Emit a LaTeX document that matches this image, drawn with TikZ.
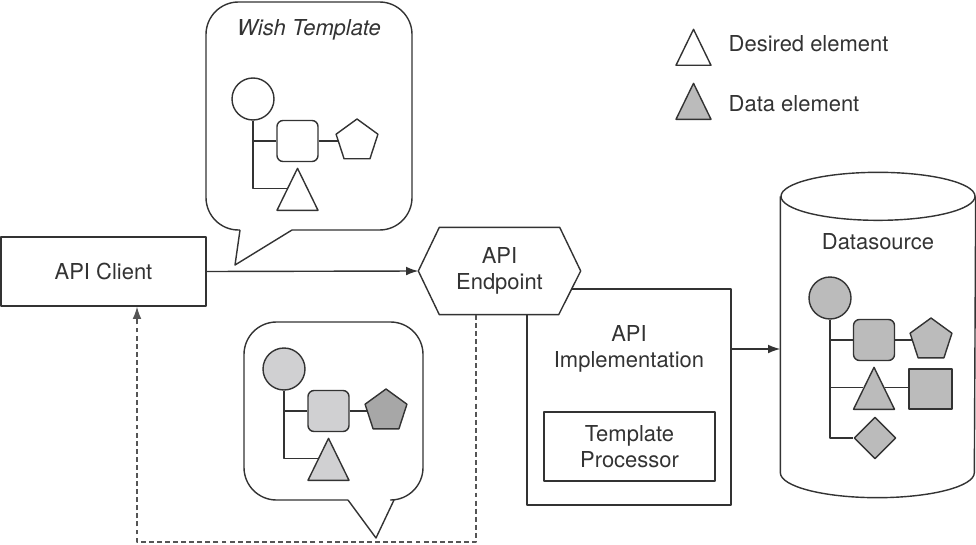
\documentclass[tikz,border=0pt]{standalone}
\usepackage{fontspec}
\setmainfont{TeX Gyre Heros}
\usepackage{tikz}
\usetikzlibrary{arrows.meta}
\usetikzlibrary{shapes.geometric}
\tikzset{>={Latex[length=7pt,width=5pt]}}
\definecolor{linegray}{HTML}{333333}
\definecolor{dashgray}{HTML}{555555}
\definecolor{lightfill}{HTML}{D0D0D2}
\definecolor{datafill}{HTML}{BBBBBB}
\definecolor{darkfill}{HTML}{A7A7A7}
\tikzset{
    circ/.style={circle, draw, inner sep=0pt, minimum size=0.84cm},
    sq/.style={rectangle, rounded corners=0.12cm, draw, inner sep=0pt, minimum size=0.82cm},
    pent/.style={regular polygon, regular polygon sides=5, draw, inner sep=0pt, minimum size=0.88cm},
    tri/.style={isosceles triangle, isosceles triangle stretches, shape border rotate=90, draw, inner sep=0pt,
        minimum width=0.82cm, minimum height=0.84cm, anchor=lower side},
    dia/.style={diamond, draw, inner sep=0pt, minimum size=0.84cm},
    bubble/.style={rounded corners=0.65cm},
    back/.style={dash pattern=on 2.8pt off 1.8pt, draw=dashgray, line width=0.7pt},
}

\begin{document}
\begin{tikzpicture}[x=0.02cm, y=-0.02cm, line width=0.8pt, color=linegray, line join=round,
    font=\fontsize{12.5}{15}\selectfont]

    \useasboundingbox (0,0) rectangle (976,544);

    % legend
    \node[tri, minimum width=0.7cm, minimum height=0.72cm] (legdes) at (693.5,66) {};
    \node[anchor=west, inner sep=0pt] (legdestext) at (728,44) {Desired element};
    \node[tri, fill=datafill, minimum width=0.7cm, minimum height=0.72cm] (legdat) at (693.5,120) {};
    \node[anchor=west, inner sep=0pt] (legdattext) at (728,104) {Data element};

    % wish template bubble
    \begin{scope}
        \draw[bubble] (240,230) -- (206,230) -- (206,2) -- (412,2) -- (412,230) -- (292,230);
        \draw (240,230) -- (235,265) -- (292,230);
        \node[font=\fontsize{12.5}{15}\selectfont\itshape] (wish) at (309,30) {Wish Template};
        \node[circ] (w1) at (253,99) {};
        \node[sq] (w2) at (297.5,141) {};
        \node[pent] (w3) at (357,141) {};
        \node[tri] (w4) at (297.5,211) {};
        \draw (w1.south) |- (w2.west);
        \draw (w1.south) |- (w4.left side);
        \draw (w2) -- (w3);
    \end{scope}

    % answer bubble
    \begin{scope}
        \draw[bubble] (348,500) -- (244,500) -- (244,322) -- (423,322) -- (423,500) -- (394,500);
        \draw (348,500) -- (376,538) -- (394,500);
        \node[circ, fill=lightfill] (b1) at (284,369) {};
        \node[sq, fill=lightfill] (b2) at (328.5,411) {};
        \node[pent, fill=darkfill] (b3) at (386,411) {};
        \node[tri, fill=lightfill] (b4) at (328.5,481) {};
        \draw (b1.south) |- (b2.west);
        \draw (b1.south) |- (b4.left side);
        \draw (b2) -- (b3);
    \end{scope}

    % client, endpoint, implementation
    \node[draw, minimum width=4.1cm, minimum height=1.38cm] (client) at (103.5,271.5) {API Client};

    \node[draw, minimum width=4.08cm, minimum height=4.32cm] (impl) at (629,397) {};
    \node[align=center] (impltext) at (629,349) {API\\Implementation};
    \node[draw, align=center, minimum width=3.42cm, minimum height=1.38cm] (proc) at (629.5,446.5) {Template\\Processor};

    \node[minimum width=3.22cm, minimum height=1.72cm] (ep) at (499.5,271) {};
    \draw[fill=white] (ep.west) -- ([xshift=0.42cm]ep.north west) -- ([xshift=-0.42cm]ep.north east)
        -- (ep.east) -- ([xshift=-0.44cm]ep.south east) -- ([xshift=0.42cm]ep.south west) -- cycle;
    \node[align=center] (eptext) at (ep) {API\\Endpoint};

    % datasource
    \node[minimum width=3.88cm, minimum height=5.5cm] (ds) at (878,334.5) {};
    \draw (ds.north west) -- (ds.south west) arc (180:0:97 and 25) -- (ds.north east);
    \draw (ds.north) ellipse (97 and 24);
    \node (dstext) at (878,242) {Datasource};
    \node[circ, fill=datafill] (d1) at (830,298) {};
    \node[sq, fill=datafill] (d2) at (874,340) {};
    \node[pent, fill=datafill] (d3) at (931,340) {};
    \node[tri, fill=datafill] (d4) at (874,410) {};
    \node[draw, fill=datafill, inner sep=0pt, minimum width=0.86cm, minimum height=0.8cm] (d5) at (930.5,389) {};
    \node[dia, fill=datafill] (d6) at (875,438) {};
    \draw (d1.south) |- (d2.west);
    \draw (d1.south) |- (d4.left side);
    \draw (d1.south) |- (d6.west);
    \draw (d2) -- (d3);
    \draw (d4.right side) -- (d4.right side -| d5.west);

    % connectors
    \draw[->] (client.east) -- (ep.west);
    \draw[->] (impltext -| impl.east) -- (impltext -| ds.west);
    \coordinate (ret) at (137,542);
    \draw[back, ->] ([xshift=-0.47cm]ep.south) |- (ret) -- (ret |- client.south);

\end{tikzpicture}
\end{document}
